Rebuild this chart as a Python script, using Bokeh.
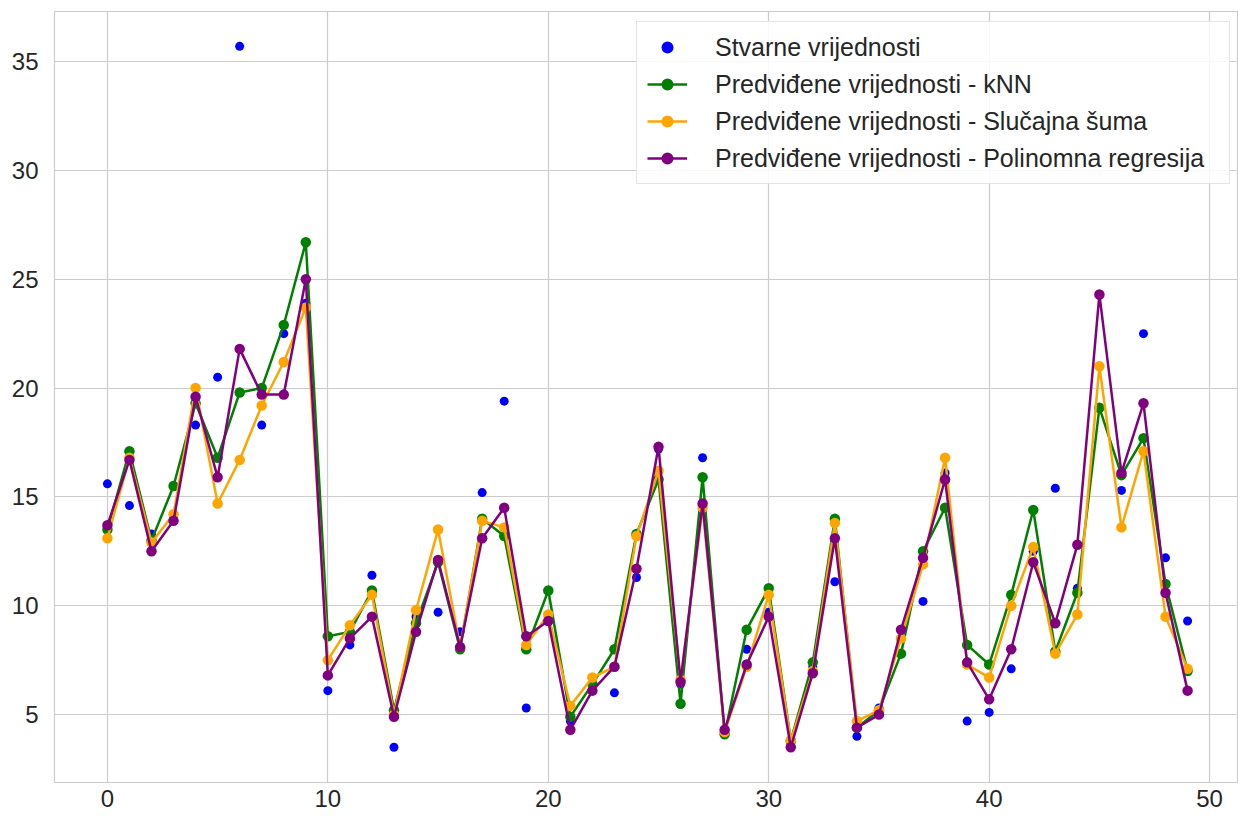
from bokeh.plotting import figure
from bokeh.models import FixedTicker, Range1d, Legend, LegendItem
from bokeh.embed import file_html
from bokeh.resources import INLINE

idx = list(range(50))

actual = [15.6, 14.6, 13.3, 14.0, 18.3, 20.5, 35.7, 18.3, 22.5, 23.9,
          6.1, 8.2, 11.4, 3.5, 9.5, 9.7, 8.8, 15.2, 19.4, 5.3,
          9.5, 4.7, 6.4, 6.0, 11.3, 17.2, 6.4, 16.8, 4.2, 8.0,
          9.7, 3.7, 7.2, 11.1, 4.0, 5.3, 8.5, 10.2, 16.1, 4.7,
          5.1, 7.1, 12.5, 15.4, 10.8, 19.1, 15.3, 22.5, 12.2, 9.3]

knn = [13.5, 17.1, 13.0, 15.5, 19.3, 16.8, 19.8, 20.0, 22.9, 26.7,
       8.6, 8.8, 10.7, 5.2, 9.2, 12.0, 8.0, 14.0, 13.2, 8.0,
       10.7, 4.9, 6.4, 8.0, 13.3, 15.8, 5.5, 15.9, 4.1, 8.9,
       10.8, 3.8, 7.4, 14.0, 4.4, 5.2, 7.8, 12.5, 14.5, 8.2,
       7.3, 10.5, 14.4, 7.9, 10.6, 19.1, 16.0, 17.7, 11.0, 7.0]

forest = [13.1, 16.8, 12.9, 14.2, 20.0, 14.7, 16.7, 19.2, 21.2, 23.7,
          7.5, 9.1, 10.5, 5.0, 9.8, 13.5, 8.1, 13.9, 13.6, 8.2,
          9.6, 5.4, 6.7, 7.2, 13.2, 16.2, 6.6, 14.5, 4.2, 7.2,
          10.5, 3.8, 7.0, 13.8, 4.7, 5.2, 8.5, 11.9, 16.8, 7.3,
          6.7, 10.0, 12.7, 7.8, 9.6, 21.0, 13.6, 17.1, 9.5, 7.1]

poly = [13.7, 16.7, 12.5, 13.9, 19.6, 15.9, 21.8, 19.7, 19.7, 25.0,
        6.8, 8.5, 9.5, 4.9, 8.8, 12.1, 8.1, 13.1, 14.5, 8.6,
        9.3, 4.3, 6.1, 7.2, 11.7, 17.3, 6.5, 14.7, 4.3, 7.3,
        9.5, 3.5, 6.9, 13.1, 4.4, 5.0, 8.9, 12.2, 15.8, 7.4,
        5.7, 8.0, 12.0, 9.2, 12.8, 24.3, 16.1, 19.3, 10.6, 6.1]

labels = ["Stvarne vrijednosti",
          "Predviđene vrijednosti - kNN",
          "Predviđene vrijednosti - Slučajna šuma",
          "Predviđene vrijednosti - Polinomna regresija"]

x_ticks = [0, 10, 20, 30, 40, 50]
y_ticks = [5, 10, 15, 20, 25, 30, 35]

FONT = "Liberation Sans"
GRID = "#cccccc"

p = figure(width=1238, height=817, output_backend="svg", toolbar_location=None,
           x_range=Range1d(-2.40, 51.31), y_range=Range1d(1.88, 37.3),
           min_border_left=54, min_border_top=11, min_border_bottom=35, min_border_right=0)

p.background_fill_color = "white"
p.border_fill_color = "white"
p.outline_line_color = GRID
p.outline_line_width = 1.2

for ax in (p.xaxis[0], p.yaxis[0]):
    ax.axis_line_color = None
    ax.major_tick_line_color = None
    ax.minor_tick_line_color = None
    ax.major_tick_out = 0
    ax.major_tick_in = 0
    ax.minor_tick_out = 0
    ax.major_label_text_font = FONT
    ax.major_label_text_font_size = "24px"
    ax.major_label_text_color = "#262626"
p.xaxis.ticker = FixedTicker(ticks=x_ticks)
p.yaxis.ticker = FixedTicker(ticks=y_ticks)
p.xaxis.major_label_standoff = 7
p.yaxis.major_label_standoff = 16

p.xgrid.ticker = FixedTicker(ticks=x_ticks)
p.ygrid.ticker = FixedTicker(ticks=y_ticks)
for g in (p.xgrid[0], p.ygrid[0]):
    g.grid_line_color = GRID
    g.grid_line_width = 1.2

r_act = p.scatter(idx, actual, size=9, color="blue", line_color=None)

items = [LegendItem(label=labels[0], renderers=[r_act])]
for ys, col, lab in [(knn, "green", labels[1]), (forest, "orange", labels[2]), (poly, "purple", labels[3])]:
    rl = p.line(idx, ys, line_color=col, line_width=2.5)
    rs = p.scatter(idx, ys, size=10.5, color=col, line_color=None)
    items.append(LegendItem(label=lab, renderers=[rl, rs]))

legend = Legend(items=items, location=(582, 598))
legend.label_text_font = FONT
legend.label_text_font_size = "25px"
legend.label_text_color = "#262626"
legend.glyph_width = 40
legend.glyph_height = 30
legend.label_height = 30
legend.label_width = 504
legend.label_standoff = 28
legend.spacing = 7
legend.padding = 10
legend.margin = 0
legend.border_line_color = GRID
legend.border_line_width = 1
legend.background_fill_alpha = 0.85
p.add_layout(legend)

open("out.html", "w").write(file_html(p, INLINE))
